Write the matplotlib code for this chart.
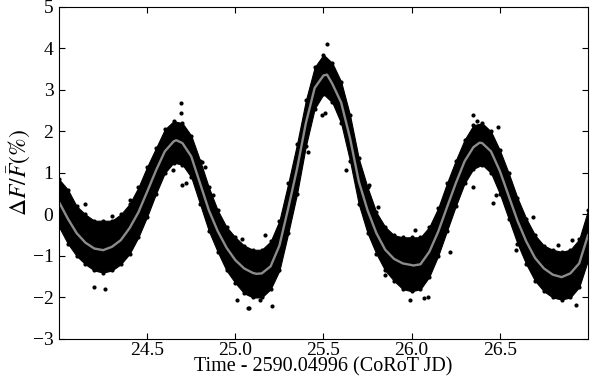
import numpy as np
import matplotlib.pyplot as plt

plt.rcParams['font.family'] = ['Liberation Serif', 'DejaVu Serif']
plt.rcParams['mathtext.fontset'] = 'stix'

# Light curve on a 0.05 day grid
t = np.arange(24.0, 27.001, 0.05)
model = [0.30, -0.10, -0.45, -0.68, -0.82, -0.86, -0.78, -0.62, -0.33, 0.05,
         0.55, 1.06, 1.52, 1.76, 1.72, 1.40, 0.75, 0.10, -0.40, -0.80,
         -1.10, -1.30, -1.41, -1.42, -1.25, -0.75, 0.15, 1.10, 2.20, 3.05,
         3.35, 3.15, 2.70, 1.85, 0.80, 0.10, -0.45, -0.85, -1.07, -1.18,
         -1.22, -1.20, -0.90, -0.42, 0.17, 0.75, 1.28, 1.62, 1.72, 1.52,
         1.05, 0.45, -0.15, -0.65, -1.05, -1.30, -1.45, -1.51, -1.42, -1.18,
         -0.50]
# upper / lower edge of the dense cloud of points
upper = [0.85, 0.60, 0.20, 0.00, -0.15, -0.15, -0.15, 0.00, 0.25, 0.65,
         1.15, 1.60, 2.05, 2.25, 2.20, 1.90, 1.30, 0.65, 0.10, -0.30,
         -0.55, -0.75, -0.85, -0.85, -0.65, -0.15, 0.75, 1.70, 2.75, 3.55,
         3.85, 3.65, 3.20, 2.40, 1.35, 0.65, 0.05, -0.30, -0.50, -0.55,
         -0.55, -0.55, -0.30, 0.15, 0.75, 1.30, 1.80, 2.15, 2.20, 2.00,
         1.55, 1.00, 0.40, -0.10, -0.50, -0.75, -0.85, -0.90, -0.85, -0.60,
         0.10]
lower = [-0.30, -0.70, -1.00, -1.20, -1.35, -1.40, -1.35, -1.20, -0.95, -0.55,
         -0.05, 0.50, 1.00, 1.25, 1.20, 0.90, 0.25, -0.40, -0.90, -1.35,
         -1.65, -1.90, -2.00, -2.00, -1.80, -1.35, -0.45, 0.50, 1.65, 2.55,
         2.90, 2.70, 2.20, 1.30, 0.25, -0.45, -0.95, -1.35, -1.60, -1.80,
         -1.85, -1.80, -1.50, -1.00, -0.40, 0.20, 0.75, 1.10, 1.20, 1.00,
         0.50, -0.10, -0.70, -1.20, -1.60, -1.85, -2.00, -2.05, -2.00, -1.75,
         -1.10]

# extra points at the extrema of the fit
t_ext = [24.25, 24.665, 25.12, 25.52, 26.01, 26.385, 26.85]
m_ext = [-0.86, 1.79, -1.43, 3.37, -1.23, 1.73, -1.51]

# scattered outliers
out_t = [24.198, 24.26, 24.694, 24.69, 24.647, 24.70, 24.72, 24.81, 24.83, 24.874,
         25.007, 25.07, 24.145, 24.30, 24.40, 25.08, 25.206, 25.14, 25.04, 25.17,
         25.52, 25.49, 25.51, 25.575, 25.41, 25.63, 25.76, 25.81, 26.02, 25.99,
         26.07, 25.85, 26.35, 26.37, 26.49, 26.35, 26.48, 26.46, 26.22, 26.93,
         26.85, 26.77, 26.09, 26.83, 26.91, 26.59, 26.69]
out_f = [-1.75, -1.79, 2.68, 2.44, 1.07, 0.71, 0.75, 1.27, 1.15, 0.47,
         -2.06, -2.26, 0.25, -0.04, 0.35, -2.26, -2.20, -2.06, -0.60, -0.49,
         4.12, 2.40, 2.44, 2.88, 1.51, 1.07, 0.71, 0.19, -0.37, -2.06,
         -2.02, -1.46, 2.40, 2.26, 2.12, 0.67, 0.47, 0.27, -0.90, -2.18,
         -2.02, -1.82, -1.98, -0.73, -0.61, -0.86, -0.05]

fig = plt.figure(figsize=(5.9, 3.8), dpi=100)
ax = fig.add_axes([0.1, 0.108, 0.8966, 0.8736])

ax.fill_between(t, lower, upper, color='black', lw=0.8)
ax.plot(t, upper, 'o', color='black', ms=3, mew=0)
ax.plot(t, lower, 'o', color='black', ms=3, mew=0)
ax.plot(out_t, out_f, 'o', color='black', ms=3, mew=0)

ct = np.concatenate([t, t_ext])
cm = np.concatenate([model, m_ext])
order = np.argsort(ct)
ax.plot(ct[order], cm[order], color='#8c8c8c', lw=1.7)

ax.set_xlim(24.0, 27.0)
ax.set_ylim(-3, 5)
ax.set_xticks([24.5, 25.0, 25.5, 26.0, 26.5])
ax.set_xticklabels(['24.5', '25.0', '25.5', '26.0', '26.5'])
ax.set_yticks(range(-3, 6))
ax.tick_params(direction='in', top=True, right=True, length=4, labelsize=14)
ax.tick_params(axis='x', pad=2)
ax.tick_params(axis='y', pad=4)
ax.set_xlabel('Time - 2590.04996 (CoRoT JD)', fontsize=14.5, labelpad=-1)
ax.set_ylabel(r'$\Delta F/\bar{F}(\%)$', fontsize=17, labelpad=0)

fig.savefig('out.png', dpi=100)
